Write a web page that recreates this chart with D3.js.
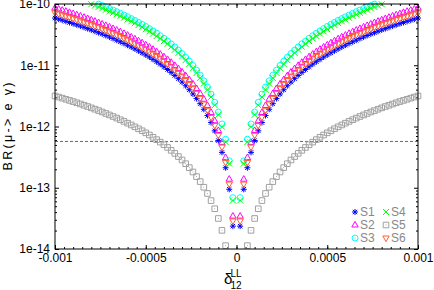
<!DOCTYPE html>
<html>
<head>
<meta charset="utf-8">
<script src="https://cdn.jsdelivr.net/npm/d3@7"></script>
<style>
  body { margin: 0; background: #fff; }
  svg { display: block; font-family: "Liberation Sans", Arial, sans-serif; }
</style>
</head>
<body>
<div id="picture"></div>
<script>
// delta_12^LL grid, in units of 1e-5
var deltaUnit = 1e-5;
var delta = [-100,-98,-96,-94,-92,-90,-88,-86,-84,-82,-80,-78,-76,-74,-72,-70,-68,-66,-64,-62,-60,-58,-56,-54,-52,-50,-48,-46,-44,-42,-40,-38,-36,-34,-32,-30,-28,-26,-24,-22,-20,-18,-16,-14,-12,-10,-8,-6,-4,-2,
             2,4,6,8,10,12,14,16,18,20,22,24,26,28,30,32,34,36,38,40,42,44,46,48,50,52,54,56,58,60,62,64,66,68,70,72,74,76,78,80,82,84,86,88,90,92,94,96,98,100];

// BR(mu -> e gamma) per scenario, in units of 1e-14
var brUnit = 1e-14;
var s1 = [5900,5666,5437,5213,4994,4779,4569,4364,4163,3967,3776,3590,3408,3231,3059,2891,2728,2570,2417,2268,2124,1985,1850,1720,1595,1475,1359,1248,1142,1041,944,852,765,682,604,531,463,399,340,286,236,191,151,116,85,59,37.8,21.2,9.44,2.36,
          2.36,9.44,21.2,37.8,59,85,116,151,191,236,286,340,399,463,531,604,682,765,852,944,1041,1142,1248,1359,1475,1595,1720,1850,1985,2124,2268,2417,2570,2728,2891,3059,3231,3408,3590,3776,3967,4163,4364,4569,4779,4994,5213,5437,5666,5900];
var s2 = [8600,8259,7926,7599,7279,6966,6660,6361,6068,5783,5504,5232,4967,4709,4458,4214,3977,3746,3523,3306,3096,2893,2697,2508,2325,2150,1981,1820,1665,1517,1376,1242,1115,994,881,774,674,581,495,416,344,279,220,169,124,86,55,31,13.8,3.44,
          3.44,13.8,31,55,86,124,169,220,279,344,416,495,581,674,774,881,994,1115,1242,1376,1517,1665,1820,1981,2150,2325,2508,2697,2893,3096,3306,3523,3746,3977,4214,4458,4709,4967,5232,5504,5783,6068,6361,6660,6966,7279,7599,7926,8259,8600];
var s3 = [17200,16519,15852,15198,14558,13932,13320,12721,12136,11565,11008,10464,9935,9419,8916,8428,7953,7492,7045,6612,6192,5786,5394,5016,4651,4300,3963,3640,3330,3034,2752,2484,2229,1988,1761,1548,1348,1163,991,832,688,557,440,337,248,172,110,61.9,27.5,6.88,
          6.88,27.5,61.9,110,172,248,337,440,557,688,832,991,1163,1348,1548,1761,1988,2229,2484,2752,3034,3330,3640,3963,4300,4651,5016,5394,5786,6192,6612,7045,7492,7953,8428,8916,9419,9935,10464,11008,11565,12136,12721,13320,13932,14558,15198,15852,16519,17200];
var s4 = [15500,14886,14285,13696,13119,12555,12003,11464,10937,10422,9920,9430,8953,8488,8035,7595,7167,6752,6349,5958,5580,5214,4861,4520,4191,3875,3571,3280,3001,2734,2480,2238,2009,1792,1587,1395,1215,1048,893,750,620,502,397,304,223,155,99.2,55.8,24.8,6.2,
          6.2,24.8,55.8,99.2,155,223,304,397,502,620,750,893,1048,1215,1395,1587,1792,2009,2238,2480,2734,3001,3280,3571,3875,4191,4520,4861,5214,5580,5958,6349,6752,7167,7595,8035,8488,8953,9430,9920,10422,10937,11464,12003,12555,13119,13696,14285,14886,15500];
var s5 = [315,302.5,290.3,278.3,266.6,255.2,243.9,233,222.3,211.8,201.6,191.6,181.9,172.5,163.3,154.4,145.7,137.2,129,121.1,113.4,106,98.8,91.9,85.2,78.8,72.6,66.7,61,55.6,50.4,45.5,40.8,36.4,32.3,28.4,24.7,21.3,18.1,15.2,12.6,10.2,8.06,6.17,4.54,3.15,2.016,1.134,0.504,0.126,
          0.126,0.504,1.134,2.016,3.15,4.54,6.17,8.06,10.2,12.6,15.2,18.1,21.3,24.7,28.4,32.3,36.4,40.8,45.5,50.4,55.6,61,66.7,72.6,78.8,85.2,91.9,98.8,106,113.4,121.1,129,137.2,145.7,154.4,163.3,172.5,181.9,191.6,201.6,211.8,222.3,233,243.9,255.2,266.6,278.3,290.3,302.5,315];
var s6 = [7200,6915,6636,6362,6094,5832,5576,5325,5080,4841,4608,4380,4159,3943,3732,3528,3329,3136,2949,2768,2592,2422,2258,2100,1947,1800,1659,1524,1394,1270,1152,1040,933,832,737,648,564,487,415,348,288,233,184,141,104,72,46.1,25.9,11.5,2.88,
          2.88,11.5,25.9,46.1,72,104,141,184,233,288,348,415,487,564,648,737,832,933,1040,1152,1270,1394,1524,1659,1800,1947,2100,2258,2422,2592,2768,2949,3136,3329,3528,3732,3943,4159,4380,4608,4841,5080,5325,5576,5832,6094,6362,6636,6915,7200];

var seriesNames = ["S1", "S2", "S3", "S4", "S5", "S6"];
var seriesValues = [s1, s2, s3, s4, s5, s6];
var seriesColors = ["#0000ff", "#ff00ff", "#00ffff", "#00ff00", "#a0a0a0", "#ff6030"];
var seriesSymbols = ["star", "triUp", "circle", "cross", "square", "triDown"];

var megLimit = 5.7e-13;
var xTicks = [-0.001, -0.0005, 0, 0.0005, 0.001];
var xTickLabels = ["-0.001", "-0.0005", "0", "0.0005", "0.001"];
var yTicks = [1e-14, 1e-13, 1e-12, 1e-11, 1e-10];
var yTickLabels = ["1e-14", "1e-13", "1e-12", "1e-11", "1e-10"];

function symbolPath(type) {
    var r = 3;
    switch (type) {
    case "star":
        return "M" + (-r) + ",0H" + r + "M0," + (-r) + "V" + r +
            "M-2.2,-2.2L2.2,2.2M-2.2,2.2L2.2,-2.2";
    case "cross":
        return "M-3,-3L3,3M-3,3L3,-3";
    case "triUp":
        return "M0,-3.6L3.2,2L-3.2,2Z";
    case "triDown":
        return "M0,3.6L3.2,-2L-3.2,-2Z";
    case "square":
        return "M-2.8,-2.8H2.8V2.8H-2.8ZM-0.4,0H0.4";
    default:
        return "M3,0A3,3 0 1,1 -3,0A3,3 0 1,1 3,0ZM-0.4,0H0.4";
    }
}

function draw() {
    "use strict";

    var width = 434, height = 290;
    var left = 55, right = 418, top = 4, bottom = 249;

    var svg = d3.select("#picture")
        .append("svg")
        .attr("width", width)
        .attr("height", height);

    var x_scale = d3.scaleLinear().domain([-0.001, 0.001]).range([left, right]);
    var y_scale = d3.scaleLog().domain([1e-14, 1e-10]).range([bottom, top]);

    // minor ticks
    var xMinor = d3.range(-20, 21).map(function (i) { return i * 0.00005; });
    var yMinor = [];
    yTicks.slice(0, 4).forEach(function (t) {
        for (var m = 2; m <= 9; m++) { yMinor.push(t * m); }
    });

    function axisGroup(axis, tx, ty) {
        var g = svg.append("g")
            .attr("transform", "translate(" + tx + "," + ty + ")")
            .call(axis);
        g.select(".domain").remove();
        g.selectAll("line").attr("stroke", "#000");
        return g;
    }

    axisGroup(d3.axisBottom(x_scale).tickValues(xMinor).tickSize(-2).tickFormat(""), 0, bottom);
    axisGroup(d3.axisTop(x_scale).tickValues(xMinor).tickSize(-2).tickFormat(""), 0, top);
    axisGroup(d3.axisLeft(y_scale).tickValues(yMinor).tickSize(-2).tickFormat(""), left, 0);
    axisGroup(d3.axisRight(y_scale).tickValues(yMinor).tickSize(-2).tickFormat(""), right, 0);

    var xb = axisGroup(d3.axisBottom(x_scale).tickValues(xTicks).tickSize(-4).tickPadding(4)
        .tickFormat(function (d, i) { return xTickLabels[i]; }), 0, bottom);
    axisGroup(d3.axisTop(x_scale).tickValues(xTicks).tickSize(-4).tickFormat(""), 0, top);
    var yl = axisGroup(d3.axisLeft(y_scale).tickValues(yTicks).tickSize(-4).tickPadding(5)
        .tickFormat(function (d, i) { return yTickLabels[i]; }), left, 0);
    axisGroup(d3.axisRight(y_scale).tickValues(yTicks).tickSize(-4).tickFormat(""), right, 0);

    [xb, yl].forEach(function (g) {
        g.selectAll("text").attr("fill", "#000").style("font-size", "12px")
            .style("font-family", "'Liberation Sans', Arial, sans-serif");
    });

    // MEG bound
    svg.append("line")
        .attr("x1", left).attr("x2", right)
        .attr("y1", y_scale(megLimit)).attr("y2", y_scale(megLimit))
        .attr("stroke", "#444")
        .attr("stroke-width", 0.8)
        .attr("stroke-dasharray", "3,2");

    // points
    seriesValues.forEach(function (vals, si) {
        var pts = delta.map(function (d, i) {
            return { x: d * deltaUnit, val: vals[i] * brUnit };
        }).filter(function (d) { return d.val >= 1e-14 && d.val <= 1e-10; });

        svg.append("g")
            .selectAll("path")
            .data(pts)
            .enter()
            .append("path")
            .attr("transform", function (d) {
                return "translate(" + x_scale(d.x) + "," + y_scale(d.val) + ")";
            })
            .attr("d", symbolPath(seriesSymbols[si]))
            .attr("fill", "none")
            .attr("stroke", seriesColors[si])
            .attr("stroke-width", 1);
    });

    // frame
    svg.append("rect")
        .attr("x", left).attr("y", top)
        .attr("width", right - left).attr("height", bottom - top)
        .attr("fill", "none")
        .attr("stroke", "#000")
        .attr("stroke-width", 1);

    // legend
    var legend = svg.append("g").attr("class", "legend");
    seriesNames.forEach(function (name, i) {
        var col = i < 3 ? 0 : 1, row = i % 3;
        var lx = 355 + col * 31, ly = 212 + row * 13;
        legend.append("path")
            .attr("transform", "translate(" + lx + "," + ly + ")")
            .attr("d", symbolPath(seriesSymbols[i]))
            .attr("fill", "none")
            .attr("stroke", seriesColors[i]);
        legend.append("text")
            .attr("x", lx + 5)
            .attr("y", ly + 4)
            .attr("fill", "#888")
            .style("font-size", "12px")
            .text(name);
    });

    // axis titles
    svg.append("text")
        .attr("transform", "translate(11.5," + ((top + bottom) / 2) + ") rotate(-90)")
        .attr("text-anchor", "middle")
        .attr("textLength", 88)
        .attr("lengthAdjust", "spacing")
        .style("font-size", "12.5px")
        .text("BR(\u03bc-> e \u03b3)");

    var xt = svg.append("text").attr("x", 224).attr("y", 284).style("font-size", "15px");
    xt.append("tspan").text("\u03b4");
    xt.append("tspan").attr("x", 230.5).attr("y", 276.5).style("font-size", "10px").text("LL");
    xt.append("tspan").attr("x", 230.5).attr("y", 288.5).style("font-size", "10px").text("12");
}

draw();
</script>
</body>
</html>
